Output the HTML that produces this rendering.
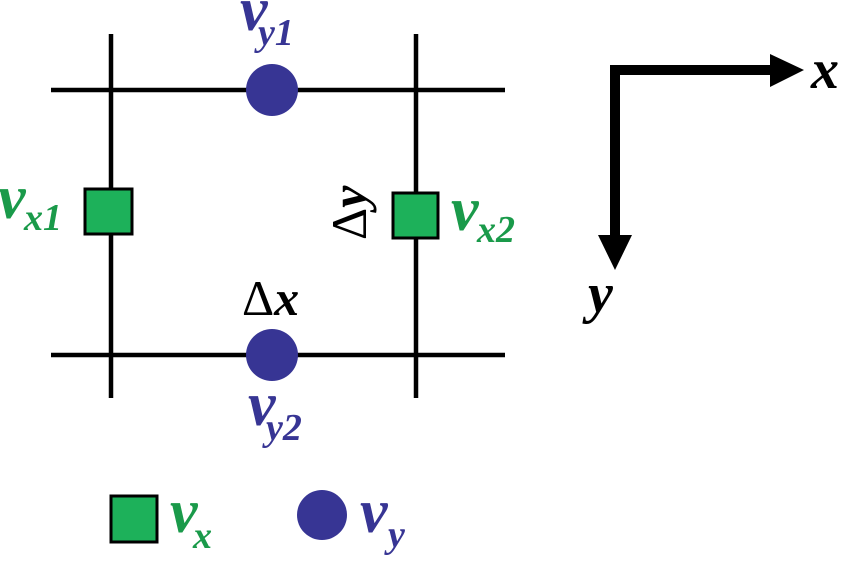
<!DOCTYPE html>
<html><head><meta charset="utf-8"><style>
html,body{margin:0;padding:0;background:#fff;}
</style></head><body>
<svg width="850" height="558" viewBox="0 0 850 558" xmlns="http://www.w3.org/2000/svg">
<g stroke="#000" stroke-width="4.5">
<line x1="51" y1="90" x2="505" y2="90"/>
<line x1="51" y1="355" x2="505" y2="355"/>
<line x1="111" y1="34" x2="111" y2="398"/>
<line x1="416" y1="34" x2="416" y2="398"/>
</g>
<circle cx="272" cy="90" r="26" fill="#373594"/>
<circle cx="272" cy="355" r="26" fill="#373594"/>
<rect x="85" y="189" width="47" height="45" fill="#1db15a" stroke="#000" stroke-width="3"/>
<rect x="393" y="193" width="45" height="45" fill="#1db15a" stroke="#000" stroke-width="3"/>
<rect x="111" y="496" width="46" height="46" fill="#1db15a" stroke="#000" stroke-width="3"/>
<circle cx="322" cy="515" r="25" fill="#373594"/>
<g font-family="Liberation Serif, DejaVu Serif, serif" font-weight="bold" font-style="italic">
<g fill="#373594">
<text x="240" y="30" font-size="62">v</text><text x="258" y="45" font-size="38">y1</text>
<text x="248" y="425" font-size="62">v</text><text x="266" y="440" font-size="38">y2</text>
<text x="360" y="532" font-size="62">v</text><text x="388" y="547" font-size="38">y</text>
</g>
<g fill="#1a9a4a">
<text x="-2" y="218" font-size="62">v</text><text x="24" y="230" font-size="38">x1</text>
<text x="451" y="230" font-size="62">v</text><text x="477" y="242" font-size="38">x2</text>
<text x="170" y="532" font-size="62">v</text><text x="193" y="548" font-size="38">x</text>
</g>
<g fill="#000">
<text x="242" y="315" font-size="50"><tspan font-style="normal" font-weight="normal">Δ</tspan>x</text>
<text transform="translate(366,240) rotate(-90)" font-size="50"><tspan font-style="normal" font-weight="normal">Δ</tspan>y</text>
<text x="811" y="88" font-size="56">x</text>
<text x="588" y="312" font-size="56">y</text>
</g>
</g>
<path d="M615 236 V70 H772" fill="none" stroke="#000" stroke-width="10"/>
<polygon points="770,54 804,70 770,87" fill="#000"/>
<polygon points="598,235 632,235 615,270" fill="#000"/>
</svg>
</body></html>
